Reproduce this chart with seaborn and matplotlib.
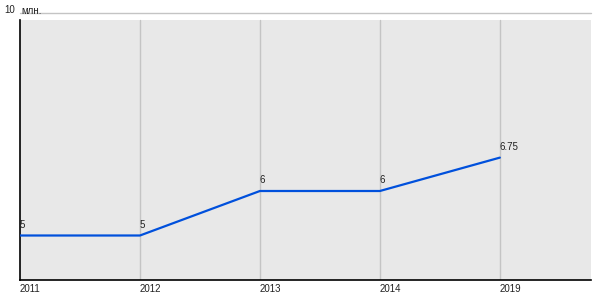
import matplotlib
matplotlib.use("Agg")
import matplotlib.pyplot as plt
import seaborn as sns
import pandas as pd

years = ["2011", "2012", "2013", "2014", "2019"]
values = [5, 5, 6, 6, 6.75]
labels = ["5", "5", "6", "6", "6.75"]
unit = "млн."

sns.set_theme(style="white")
plt.rcParams['font.family'] = ['Liberation Sans', 'DejaVu Sans']

df = pd.DataFrame({"pos": list(range(len(years))), "value": values})

fig = plt.figure(figsize=(6, 3), dpi=100)
ax = fig.add_axes([20/600, 1 - 280/300, 571/600, 267/300])
ax.set_facecolor("white")
ymin, ymax = 4, 10
bg_top = 9.84
ax.axhspan(ymin, bg_top, color="#e8e8e8", zorder=0, lw=0)
ax.axhline(ymax, color="#c4c4c4", lw=1, zorder=1, clip_on=False)

for i in range(1, len(years)):
    ax.plot([i, i], [ymin, bg_top], color="#c4c4c4", lw=1, zorder=1)

sns.lineplot(data=df, x="pos", y="value", ax=ax, color="#0050dc", lw=1.6, zorder=3)

for i, (v, t) in enumerate(zip(values, labels)):
    ax.annotate(t, (i, v), xytext=(0, 4), textcoords="offset points",
                ha="left", va="bottom", fontsize=7, color="#222222", zorder=4)

ax.set_xlim(0, 4.76)
ax.set_ylim(ymin, ymax)
ax.set_xticks(range(len(years)))
ax.set_xticklabels(years)
ax.set_yticks([])
ax.tick_params(axis="both", length=0, labelsize=7, colors="#222222", pad=3)
for lbl in ax.get_xticklabels():
    lbl.set_ha("left")
ax.annotate("10", (0, ymax), xytext=(-3.5, 2), textcoords="offset points",
            ha="right", va="center", fontsize=7, color="#222222", annotation_clip=False)
ax.annotate(unit, (0, ymax), xytext=(1, -2.5), textcoords="offset points",
            ha="left", va="bottom", fontsize=7, color="#222222", annotation_clip=False)
ax.set_xlabel("")
ax.set_ylabel("")

for s in ["top", "right"]:
    ax.spines[s].set_visible(False)
ax.spines["left"].set_color("black")
ax.spines["left"].set_linewidth(1.2)
ax.spines["left"].set_bounds(ymin, bg_top)
ax.spines["bottom"].set_color("black")
ax.spines["bottom"].set_linewidth(1.2)

fig.savefig("out.png", dpi=100)
